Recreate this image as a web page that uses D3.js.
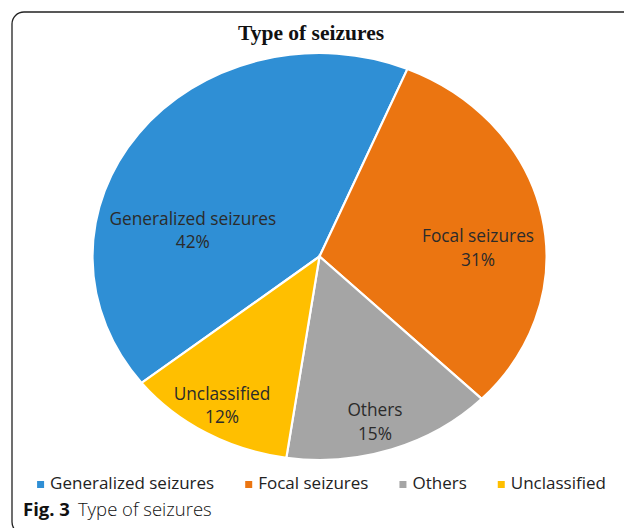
<!DOCTYPE html>
<html>
<head>
<meta charset="utf-8">
<script src="https://cdn.jsdelivr.net/npm/d3@7"></script>
<style>
  html, body { margin: 0; padding: 0; background: #fff; }
  svg { display: block; }
</style>
</head>
<body>
<div id="chart"></div>
<script>
// data
const categories = ['Generalized seizures', 'Focal seizures', 'Others', 'Unclassified'];
const values = [42, 31, 15, 12];
const colors = ['#2F8FD5', '#EB7511', '#A5A5A5', '#FFBF00'];
const title = 'Type of seizures';

const width = 624;
const height = 528;

const svg = d3.select('#chart').append('svg')
    .attr('width', width)
    .attr('height', height);

// figure frame (rounded box, runs off the right / bottom)
svg.append('rect')
    .attr('x', 12).attr('y', 12)
    .attr('width', 700).attr('height', 522)
    .attr('rx', 12).attr('ry', 12)
    .attr('fill', 'none')
    .attr('stroke', '#222')
    .attr('stroke-width', 1.3);

// chart title
svg.append('text')
    .attr('x', 311).attr('y', 40)
    .attr('text-anchor', 'middle')
    .attr('font-family', '"Liberation Serif", "Times New Roman", serif')
    .attr('font-weight', 'bold')
    .attr('font-size', '21.5px')
    .attr('fill', '#111')
    .text(title);

// pie is a bit squashed vertically in the figure
const cx = 319.5, cy = 256.5;
const rx = 227, ry = 203.5;
const squash = ry / rx;

const deg = Math.PI / 180;
const pie = d3.pie()
    .sort(null)
    .value(d => d)
    .startAngle(-128.4 * deg)
    .endAngle(-128.4 * deg + 2 * Math.PI);

const arcs = pie(values);
const arc = d3.arc().innerRadius(0).outerRadius(rx);

const g = svg.append('g')
    .attr('transform', `translate(${cx},${cy}) scale(1,${squash})`);

g.selectAll('path')
    .data(arcs)
    .enter().append('path')
    .attr('d', arc)
    .attr('fill', (d, i) => colors[i])
    .attr('stroke', '#fff')
    .attr('stroke-width', 2.2)
    .attr('vector-effect', 'non-scaling-stroke');

// label spots (polar, relative to pie) - excel moved them around a bit
const labelSpot = [
    { a: -76.8, r: 0.573 },
    { a: 86.2, r: 0.70 },
    { a: 163.2, r: 0.846 },
    { a: 210.5, r: 0.846 }
];

const labels = svg.append('g')
    .attr('font-family', '"Open Sans", "Noto Sans", sans-serif')
    .attr('font-size', '17.3px')
    .attr('fill', '#2b2b2b')
    .attr('text-anchor', 'middle');

const total = d3.sum(values);
arcs.forEach((d, i) => {
    const s = labelSpot[i];
    const x = cx + s.r * rx * Math.sin(s.a * deg);
    const y = cy - s.r * ry * Math.cos(s.a * deg);
    const t = labels.append('text').attr('x', x).attr('y', y - 5);
    t.append('tspan').attr('x', x).text(categories[i]);
    t.append('tspan').attr('x', x).attr('dy', 23.5)
        .text(Math.round(d.value / total * 100) + '%');
});

// legend, centred under the pie
const legend = svg.append('g')
    .attr('font-family', '"Open Sans", "Noto Sans", sans-serif')
    .attr('font-size', '17px')
    .attr('fill', '#222');

const items = categories.map((c, i) => {
    const it = legend.append('g');
    it.append('rect')
        .attr('width', 7).attr('height', 7)
        .attr('y', -8)
        .attr('fill', colors[i]);
    const txt = it.append('text').attr('x', 13).text(c);
    return { it, w: 13 + txt.node().getComputedTextLength() };
});

const gap = 31;
const totalW = d3.sum(items, d => d.w) + gap * (items.length - 1);
let lx = cx + 2 - totalW / 2;
items.forEach(d => {
    d.it.attr('transform', `translate(${lx},489)`);
    lx += d.w + gap;
});

// figure caption
const cap = svg.append('text')
    .attr('x', 23).attr('y', 516)
    .attr('font-family', '"Open Sans", "Noto Sans", sans-serif')
    .attr('font-size', '18.5px')
    .attr('fill', '#111');
cap.append('tspan').attr('font-weight', 'bold').text('Fig. 3');
cap.append('tspan').attr('dx', 8).attr('font-weight', 300).text('Type of seizures');
</script>
</body>
</html>
